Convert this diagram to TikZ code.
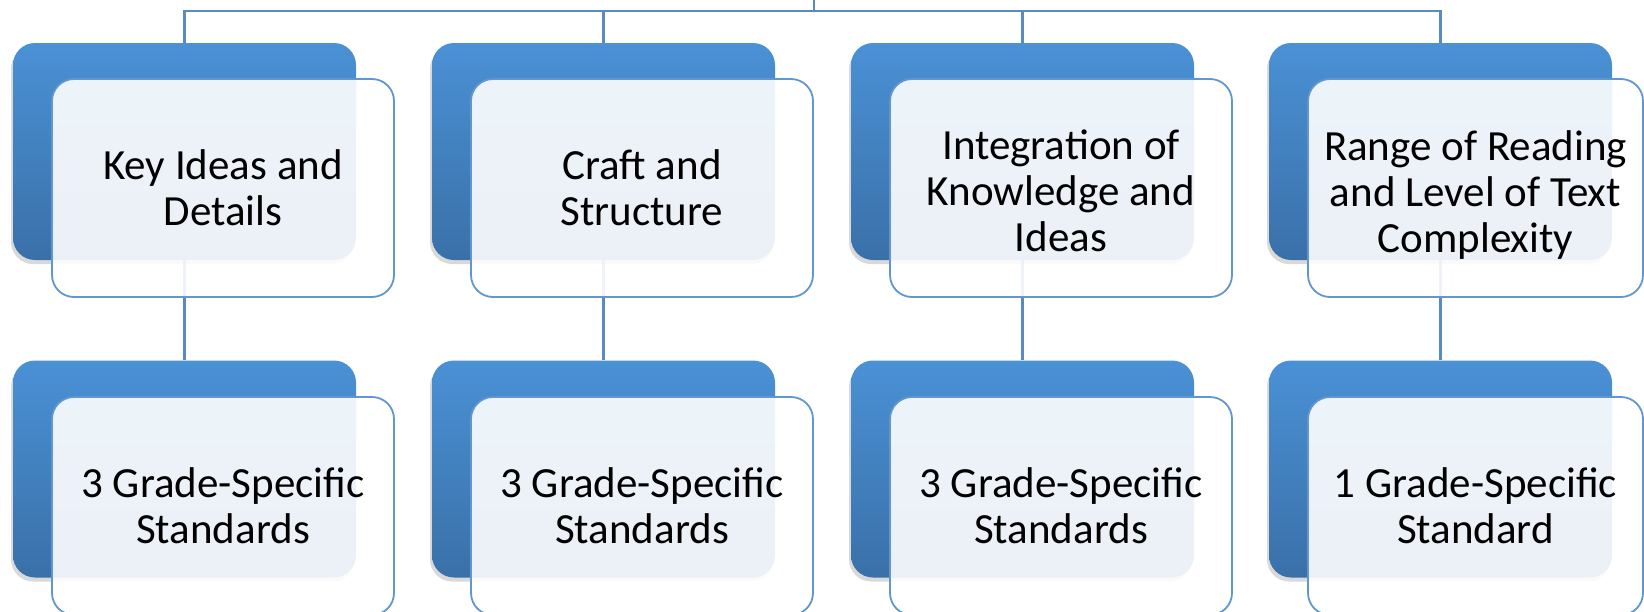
\documentclass[tikz,border=0pt]{standalone}
\usepackage{fontspec}
\setmainfont{Carlito}
\usetikzlibrary{shadows}
\definecolor{bluetop}{HTML}{4A91D5}
\definecolor{bluebot}{HTML}{3A70A8}
\definecolor{linec}{HTML}{5A8AC4}
\definecolor{edgec}{HTML}{6196D0}
\pgfdeclarelayer{bg}
\pgfsetlayers{bg,main}
\tikzset{
  bluebox/.style={rectangle, rounded corners=22pt, minimum width=343pt, minimum height=217pt,
    inner sep=0pt, top color=bluetop, bottom color=bluebot, draw=none,
    drop shadow={shadow xshift=-2pt, shadow yshift=-4pt, opacity=0.15, fill=black}},
  lightbox/.style={rectangle, rounded corners=22pt, minimum width=342pt, minimum height=218pt,
    inner sep=0pt, fill=white, fill opacity=0.9, text opacity=1, draw=edgec, line width=1.8pt,
    align=center, font=\fontsize{43}{46}\selectfont},
  conn/.style={draw=linec, line width=2.2pt}
}
\begin{document}
\begin{tikzpicture}[x=1pt,y=-1pt]
\useasboundingbox (0,0) rectangle (1644,611);
\coordinate (root) at (814,0);
\coordinate (bar) at (814,11);
% blue boxes
\node[bluebox] (b1) at (184.5,151.5) {};
\node[bluebox] (b2) at (603.5,151.5) {};
\node[bluebox] (b3) at (1022.5,151.5) {};
\node[bluebox] (b4) at (1440.5,151.5) {};
\node[bluebox] (c1) at (184.5,469) {};
\node[bluebox] (c2) at (603.5,469) {};
\node[bluebox] (c3) at (1022.5,469) {};
\node[bluebox] (c4) at (1440.5,469) {};
% connectors behind
\begin{pgfonlayer}{bg}
\draw[conn] (root) -- (bar);
\draw[conn] (b1.north) |- (bar) -| (b4.north);
\draw[conn] (bar) -| (b2.north);
\draw[conn] (bar) -| (b3.north);
\draw[conn] (b1.south) -- (c1.north);
\draw[conn] (b2.south) -- (c2.north);
\draw[conn] (b3.south) -- (c3.north);
\draw[conn] (b4.south) -- (c4.north);
\end{pgfonlayer}
% light boxes
\node[lightbox] (l1) at (223,188) {Key Ideas and\\Details};
\node[lightbox] (l2) at (642,188) {Craft and\\Structure};
\node[lightbox] (l3) at (1061,188) {\rule{0pt}{36pt}Integration of\\Knowledge and\\Ideas};
\node[lightbox, minimum width=335pt] (l4) at (1475.5,188) {\rule{0pt}{44pt}Range of Reading\\and Level of Text\\Complexity};
\node[lightbox] (m1) at (223,506) {3 Grade-Specific\\Standards};
\node[lightbox] (m2) at (642,506) {3 Grade-Specific\\Standards};
\node[lightbox] (m3) at (1061,506) {3 Grade-Specific\\Standards};
\node[lightbox, minimum width=335pt] (m4) at (1475.5,506) {1 Grade-Specific\\Standard};
\end{tikzpicture}
\end{document}
